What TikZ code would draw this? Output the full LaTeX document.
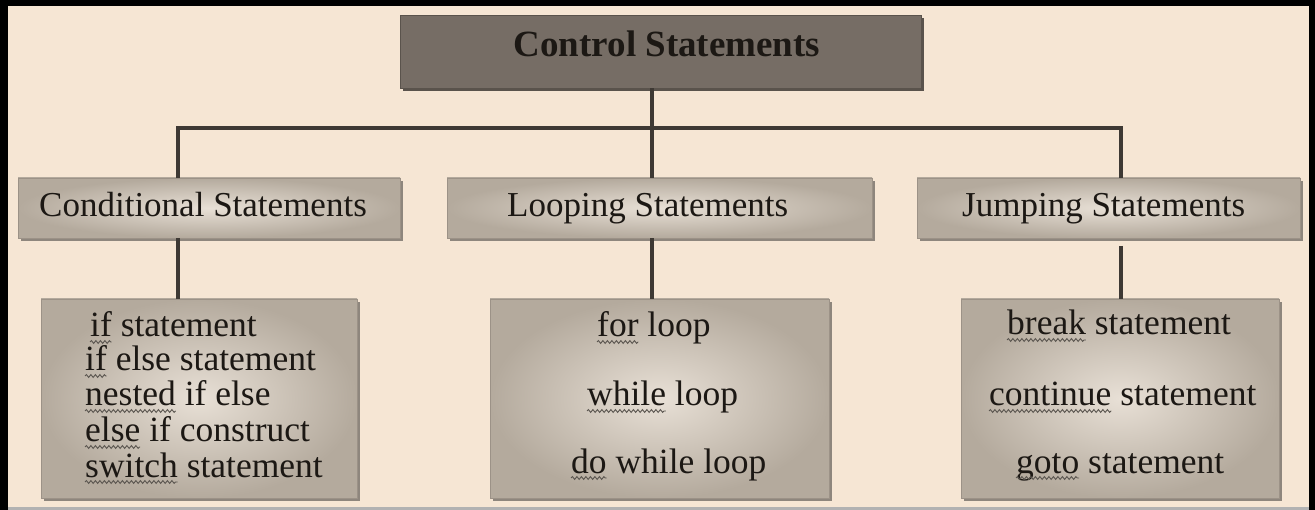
\documentclass[tikz,border=0pt]{standalone}
\usepackage{fontspec}
\setmainfont{Liberation Serif}
\usetikzlibrary{shadows,decorations.pathmorphing}
\definecolor{bgc}{HTML}{F6E6D4}
\definecolor{topc}{HTML}{766D65}
\definecolor{topd}{HTML}{5A534C}
\definecolor{boxin}{HTML}{E8E0D6}
\definecolor{boxout}{HTML}{B4AA9D}
\definecolor{boxd}{HTML}{9C9287}
\definecolor{shc}{HTML}{8E867D}
\definecolor{linec}{HTML}{3E3934}
\definecolor{txtc}{HTML}{1C1814}
\definecolor{sqc}{HTML}{5A554F}
\newcommand\lfont{\fontsize{35.5}{36}\selectfont}
\newlength\wif \newlength\wnested \newlength\welse \newlength\wswitch
\newlength\wfor \newlength\wwhile \newlength\wdo
\newlength\wbreak \newlength\wcontinue \newlength\wgoto
\newcommand\squiggle[2]{\draw[sqline] ([yshift=-5pt]#1.base west) -- ++(#2,0);}
\tikzset{
  topbox/.style={draw=topd, line width=0.8pt, fill=topc, inner sep=0pt,
    drop shadow={shadow xshift=3pt, shadow yshift=-3pt, fill=topd, opacity=1}},
  catbox/.style={draw=boxd, line width=0.8pt, inner sep=0pt, inner color=boxin, outer color=boxout,
    drop shadow={shadow xshift=3pt, shadow yshift=-3pt, fill=shc, opacity=1}},
  conn/.style={draw=linec, line width=4pt, line join=miter},
  sqline/.style={draw=sqc, line width=0.9pt, decorate,
    decoration={snake, segment length=4.5pt, amplitude=1.4pt}},
  lt/.style={inner sep=0pt, text=txtc, font=\lfont},
  cattxt/.style={inner sep=0pt, text=txtc, font=\fontsize{35}{36}\selectfont},
  toptxt/.style={inner sep=0pt, text=txtc, font=\fontsize{37}{38}\selectfont\bfseries},
}
\begin{document}
\settowidth{\wif}{\lfont if}\settowidth{\wnested}{\lfont nested}%
\settowidth{\welse}{\lfont else}\settowidth{\wswitch}{\lfont switch}%
\settowidth{\wfor}{\lfont for}\settowidth{\wwhile}{\lfont while}%
\settowidth{\wdo}{\lfont do}\settowidth{\wbreak}{\lfont break}%
\settowidth{\wcontinue}{\lfont continue}\settowidth{\wgoto}{\lfont goto}%
\begin{tikzpicture}[x=1pt,y=-1pt]
\path[use as bounding box] (0,0) rectangle (1315,510);
\fill[bgc] (0,0) rectangle (1315,510);
\fill[black] (0,0) rectangle (1315,6);
\fill[black] (0,0) rectangle (8,510);
\fill[black] (1309,0) rectangle (1315,510);
\fill[black!30] (8,507) rectangle (1309,510);

% boxes
\node[topbox, minimum width=521pt, minimum height=73pt] (top) at (660.5,51.5) {};
\node[catbox, minimum width=382pt, minimum height=60pt] (cond) at (209,208) {};
\node[catbox, minimum width=425pt, minimum height=60pt] (loop) at (659.5,208) {};
\node[catbox, minimum width=383pt, minimum height=60pt] (jump) at (1108.5,208) {};
\node[catbox, minimum width=316pt, minimum height=199pt] (condl) at (199,398.5) {};
\node[catbox, minimum width=339pt, minimum height=199pt] (loopl) at (659.5,398.5) {};
\node[catbox, minimum width=318pt, minimum height=199pt] (jumpl) at (1120,398.5) {};

% connectors
\coordinate (hl) at (178,128);
\coordinate (hm) at (652,128);
\coordinate (hr) at (1121,128);
\draw[conn] (top.south -| hm) -- (hm);
\draw[conn] (cond.north -| hl) -- (hl) -- (hr) -- (jump.north -| hr);
\draw[conn] (hm) -- (loop.north -| hm);
\draw[conn] (cond.south -| hl) -- (condl.north -| hl);
\draw[conn] (loop.south -| hm) -- (loopl.north -| hm);
\coordinate (jgap) at (1121,246);
\draw[conn] (jgap) -- (jumpl.north -| jgap);

% texts
\node[toptxt, anchor=base] (topt) at (667,57) {Control Statements};
\node[cattxt, anchor=base west] (condt) at (39,217) {Conditional Statements};
\node[cattxt, anchor=base west] (loopt) at (507,217) {Looping Statements};
\node[cattxt, anchor=base west] (jumpt) at (962,217) {Jumping Statements};

\node[lt, anchor=base west] (c1) at (90,337) {if statement};
\node[lt, anchor=base west] (c2) at (85,371) {if else statement};
\node[lt, anchor=base west] (c3) at (85,406) {nested if else};
\node[lt, anchor=base west] (c4) at (85,442) {else if construct};
\node[lt, anchor=base west] (c5) at (85,477) {switch statement};

\node[lt, anchor=base west] (l1) at (597,337) {for loop};
\node[lt, anchor=base west] (l2) at (587,406) {while loop};
\node[lt, anchor=base west] (l3) at (571,473) {do while loop};

\node[lt, anchor=base west] (j1) at (1007,335) {break statement};
\node[lt, anchor=base west] (j2) at (989,406) {continue statement};
\node[lt, anchor=base west] (j3) at (1016,473) {goto statement};

% spell-check squiggles
\squiggle{c1}{\wif}
\squiggle{c2}{\wif}
\squiggle{c3}{\wnested}
\squiggle{c4}{\welse}
\squiggle{c5}{\wswitch}
\squiggle{l1}{\wfor}
\squiggle{l2}{\wwhile}
\squiggle{l3}{\wdo}
\squiggle{j1}{\wbreak}
\squiggle{j2}{\wcontinue}
\squiggle{j3}{\wgoto}
\end{tikzpicture}
\end{document}
